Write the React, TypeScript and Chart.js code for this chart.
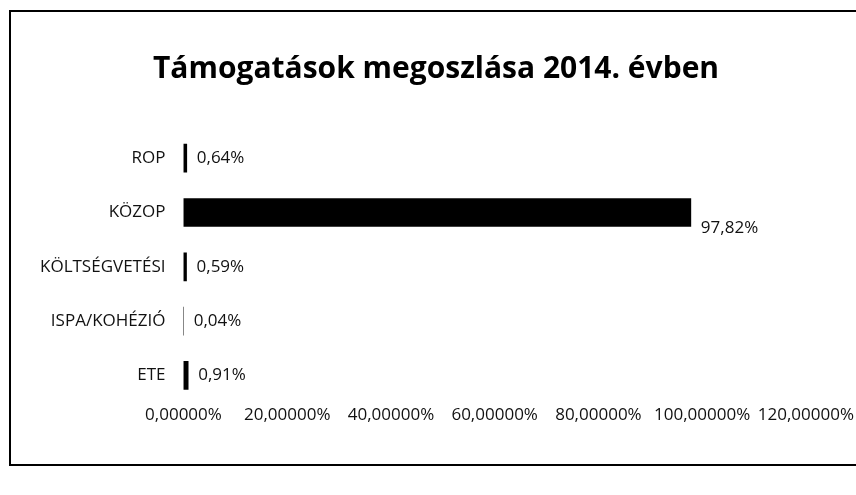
import React, { useEffect, useRef } from "react";
import { Chart, registerables } from "chart.js";

Chart.register(...registerables);

const titleText = "Támogatások megoszlása 2014. évben";
const categories = ["ROP", "KÖZOP", "KÖLTSÉGVETÉSI", "ISPA/KOHÉZIÓ", "ETE"];
const shares = [0.64, 97.82, 0.59, 0.04, 0.91];
const axisMax = 120;
const axisStep = 20;

const fmt = (v: number, d: number) => v.toFixed(d).replace(".", ",") + "%";

const valueLabels = {
  id: "valueLabels",
  afterDatasetsDraw(chart: any) {
    const ctx = chart.ctx;
    const meta = chart.getDatasetMeta(0);
    ctx.save();
    ctx.font = "17px 'Open Sans', sans-serif";
    ctx.fillStyle = "#111";
    ctx.textAlign = "left";
    ctx.textBaseline = "middle";
    meta.data.forEach((bar: any, i: number) => {
      const v = chart.data.datasets[0].data[i] as number;
      ctx.fillText(fmt(v, 2), bar.x + 10, bar.y + (i === 1 ? 16 : 0));
    });
    ctx.restore();
  },
};

export default function App() {
  const ref = useRef<HTMLCanvasElement>(null);
  useEffect(() => {
    document.body.style.margin = "0";
    const chart = new Chart(ref.current!, {
      type: "bar",
      data: {
        labels: categories,
        datasets: [
          {
            data: shares,
            backgroundColor: "#000",
            borderWidth: 0,
            barThickness: 28,
          },
        ],
      },
      options: {
        indexAxis: "y",
        animation: false,
        responsive: false,
        maintainAspectRatio: false,
        layout: { padding: { top: 33, bottom: 68, left: 22, right: 6 } },
        plugins: {
          legend: { display: false },
          tooltip: { enabled: false },
          title: {
            display: true,
            text: titleText,
            color: "#000",
            font: { family: "'Open Sans', sans-serif", size: 30, weight: "bold" },
            padding: { top: 18, bottom: 44 },
          },
        },
        scales: {
          x: {
            min: 0,
            max: axisMax,
            grid: { display: false, drawTicks: false },
            border: { display: false },
            ticks: {
              stepSize: axisStep,
              padding: 2,
              color: "#111",
              font: { family: "'Open Sans', sans-serif", size: 17 },
              callback: (v: any) => fmt(Number(v), 5),
              maxRotation: 0,
              autoSkip: false,
            },
          },
          y: {
            grid: { display: false, drawTicks: false },
            border: { display: false },
            ticks: {
              padding: 18,
              color: "#111",
              font: { family: "'Open Sans', sans-serif", size: 17 },
            },
          },
        },
      },
      plugins: [valueLabels],
    });
    return () => chart.destroy();
  }, []);
  return (
    <div style={{ position: "relative", width: 856, height: 495, background: "#fff", overflow: "hidden" }}>
      <canvas ref={ref} width={856} height={495} style={{ position: "absolute", left: 0, top: 0 }} />
      <div
        style={{
          position: "absolute",
          left: 9,
          top: 10,
          width: 900,
          height: 452,
          borderLeft: "2px solid #000",
          borderTop: "2px solid #000",
          borderBottom: "2px solid #000",
          pointerEvents: "none",
        }}
      />
    </div>
  );
}
